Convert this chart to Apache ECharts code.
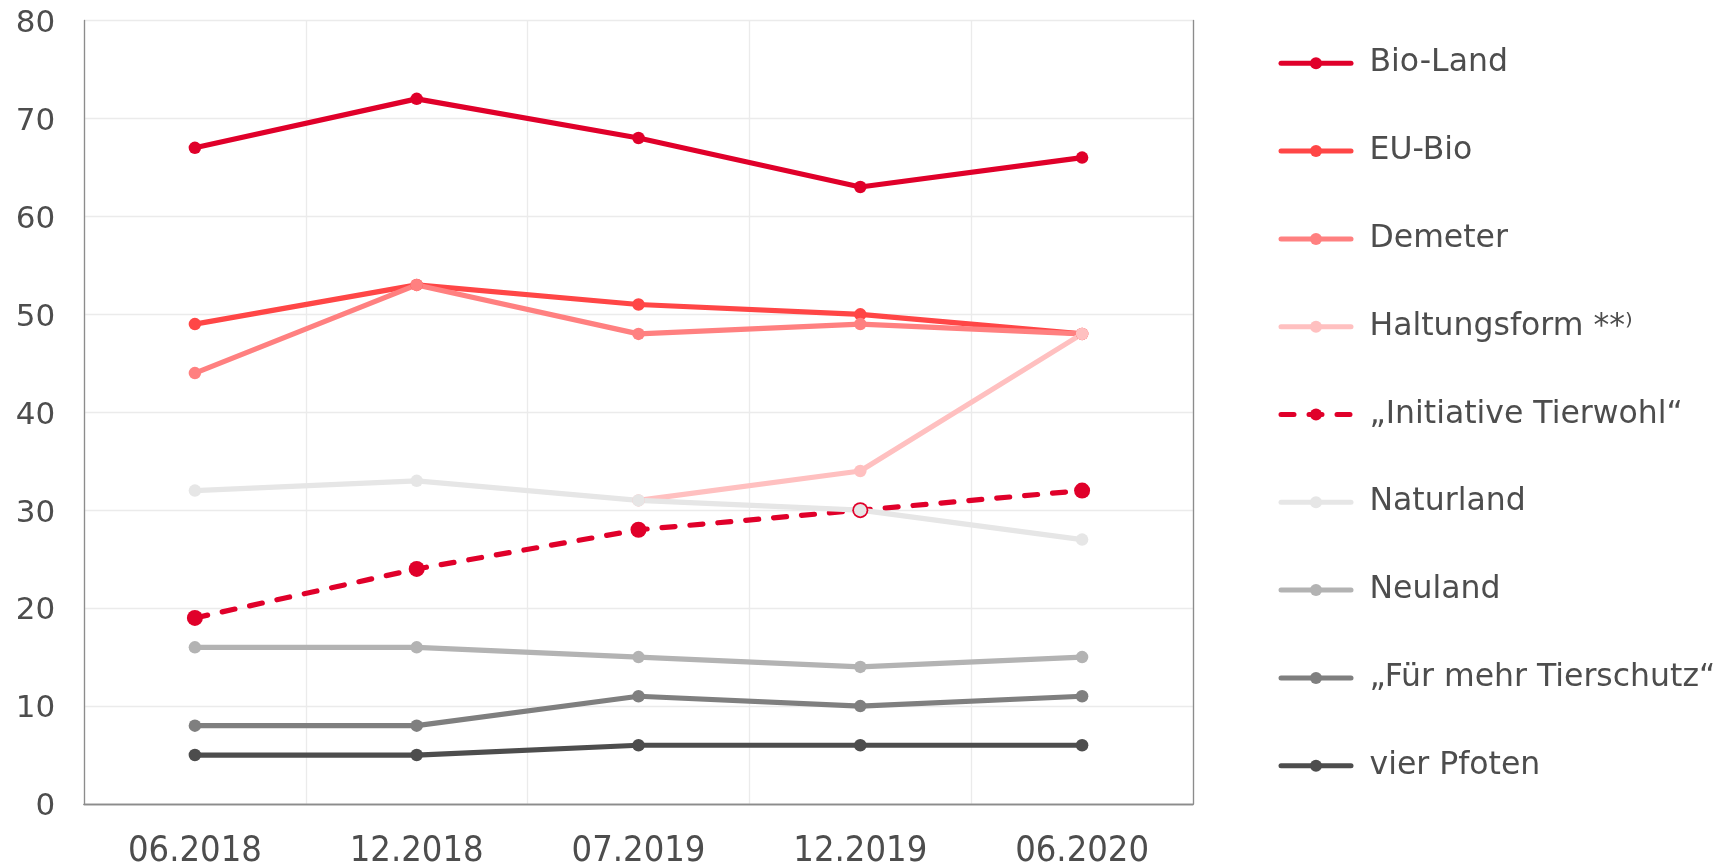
<!DOCTYPE html>
<html>
<head>
<meta charset="utf-8">
<script src="https://cdn.jsdelivr.net/npm/echarts@6/dist/echarts.min.js"></script>
<style>
html,body{margin:0;padding:0;background:#fff;}
#chart{width:1726px;height:864px;}
</style>
</head>
<body>
<div id="chart"></div>
<script>
const categories = ['06.2018', '12.2018', '07.2019', '12.2019', '06.2020'];
const yTicks = [0, 10, 20, 30, 40, 50, 60, 70, 80];

const bioLand = [67, 72, 68, 63, 66];
const euBio = [49, 53, 51, 50, 48];
const demeter = [44, 53, 48, 49, 48];
const haltungsform = [null, null, 31, 34, 48];
const initiativeTierwohl = [19, 24, 28, 30, 32];
const naturland = [32, 33, 31, 30, 27];
const neuland = [16, 16, 15, 14, 15];
const fuerMehrTierschutz = [8, 8, 11, 10, 11];
const vierPfoten = [5, 5, 6, 6, 6];

const seriesDefs = [
  { name: 'Bio-Land', data: bioLand, color: '#e0002a' },
  { name: 'EU-Bio', data: euBio, color: '#ff4646' },
  { name: 'Demeter', data: demeter, color: '#ff8080' },
  { name: 'Haltungsform **⁾', data: haltungsform, color: '#ffc0c0' },
  { name: '„Initiative Tierwohl“', data: initiativeTierwohl, color: '#e0002a', dashed: true },
  { name: 'Naturland', data: naturland, color: '#e6e6e6' },
  { name: 'Neuland', data: neuland, color: '#b3b3b3' },
  { name: '„Für mehr Tierschutz“', data: fuerMehrTierschutz, color: '#7f7f7f' },
  { name: 'vier Pfoten', data: vierPfoten, color: '#4d4d4d' }
];

const chart = echarts.init(document.getElementById('chart'), null, { renderer: 'canvas' });

const borderLine = { show: true, lineStyle: { color: '#8c8c8c', width: 1.3 } };

chart.setOption({
  animation: false,
  backgroundColor: '#ffffff',
  grid: { left: 84, top: 20.5, right: 533, bottom: 60, show: false, containLabel: false, outerBoundsMode: 'none' },
  legend: {
    orient: 'vertical',
    left: 1273.5,
    top: 42.3,
    itemWidth: 70,
    itemHeight: 15,
    itemGap: 55.8,
    lineStyle: { width: 5 },
    textStyle: {
      fontFamily: 'DejaVu Sans',
      fontSize: 31.5,
      lineHeight: 32,
      color: '#4d4d4d',
      padding: [0, 0, 0, 13.5]
    },
    data: seriesDefs.map(s => s.name)
  },
  xAxis: [{
    type: 'category',
    data: categories,
    boundaryGap: true,
    axisLine: borderLine,
    axisTick: { show: false },
    splitLine: { show: true, lineStyle: { color: '#ebebeb', width: 1.3 } },
    axisLabel: {
      margin: 29.5,
      fontFamily: 'DejaVu Sans Condensed',
      fontSize: 36,
      color: '#4d4d4d'
    }
  }, {
    type: 'category',
    data: categories,
    position: 'top',
    boundaryGap: true,
    axisLine: borderLine,
    axisTick: { show: false },
    axisLabel: { show: false },
    splitLine: { show: false }
  }],
  yAxis: [{
    type: 'value',
    min: yTicks[0],
    max: yTicks[yTicks.length - 1],
    interval: 10,
    axisLine: borderLine,
    axisTick: { show: false },
    splitLine: { show: true, lineStyle: { color: '#ebebeb', width: 1.3 } },
    axisLabel: {
      margin: 28.7,
      formatter: v => '{v|' + v + '}',
      rich: {
        v: {
          fontFamily: 'DejaVu Sans',
          fontSize: 31,
          color: '#4d4d4d',
          padding: [6.6, 0, 0, 0]
        }
      }
    }
  }, {
    type: 'value',
    position: 'right',
    min: yTicks[0],
    max: yTicks[yTicks.length - 1],
    interval: 10,
    axisLine: borderLine,
    axisTick: { show: false },
    axisLabel: { show: false },
    splitLine: { show: false }
  }],
  series: seriesDefs.map(s => ({
    name: s.name,
    type: 'line',
    data: s.data,
    symbol: 'circle',
    symbolSize: s.dashed ? 16 : 12.5,
    showSymbol: true,
    connectNulls: false,
    itemStyle: { color: s.color },
    lineStyle: {
      color: s.color,
      width: 5.2,
      type: s.dashed ? [13, 15] : 'solid',
      cap: 'round'
    },
    emphasis: { disabled: true }
  }))
});
</script>
</body>
</html>
